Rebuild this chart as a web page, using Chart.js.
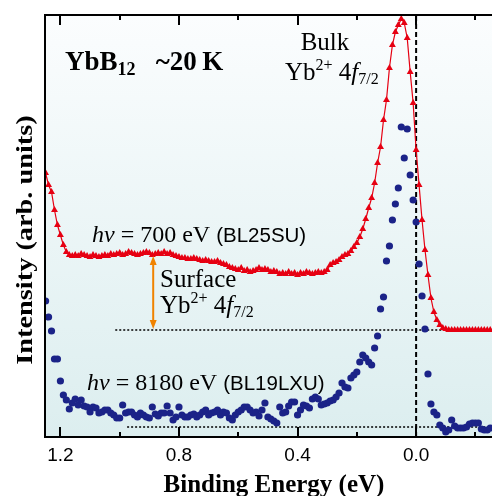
<!DOCTYPE html>
<html>
<head>
<meta charset="utf-8">
<script src="https://cdn.jsdelivr.net/npm/chart.js@4.4.0/dist/chart.umd.min.js"></script>
<style>
html, body { margin: 0; padding: 0; background: #fff; }
</style>
</head>
<body>
<canvas id="spectra" width="492" height="496"></canvas>
<script>
// binding energy grid (eV)
const energy = [1.25, 1.24, 1.23, 1.22, 1.21, 1.20, 1.19, 1.18, 1.17, 1.16, 1.15, 1.14, 1.13, 1.12, 1.11, 1.10,
    1.09, 1.08, 1.07, 1.06, 1.05, 1.04, 1.03, 1.02, 1.01, 1.00, 0.99, 0.98, 0.97, 0.96, 0.95, 0.94, 0.93, 0.92,
    0.91, 0.90, 0.89, 0.88, 0.87, 0.86, 0.85, 0.84, 0.83, 0.82, 0.81, 0.80, 0.79, 0.78, 0.77, 0.76, 0.75, 0.74,
    0.73, 0.72, 0.71, 0.70, 0.69, 0.68, 0.67, 0.66, 0.65, 0.64, 0.63, 0.62, 0.61, 0.60, 0.59, 0.58, 0.57, 0.56,
    0.55, 0.54, 0.53, 0.52, 0.51, 0.50, 0.49, 0.48, 0.47, 0.46, 0.45, 0.44, 0.43, 0.42, 0.41, 0.40, 0.39, 0.38,
    0.37, 0.36, 0.35, 0.34, 0.33, 0.32, 0.31, 0.30, 0.29, 0.28, 0.27, 0.26, 0.25, 0.24, 0.23, 0.22, 0.21, 0.20,
    0.19, 0.18, 0.17, 0.16, 0.15, 0.14, 0.13, 0.12, 0.11, 0.10, 0.09, 0.08, 0.07, 0.06, 0.05, 0.04, 0.03, 0.02,
    0.01, 0.00, -0.01, -0.02, -0.03, -0.04, -0.05, -0.06, -0.07, -0.08, -0.09, -0.10, -0.11, -0.12, -0.13, -0.14,
    -0.15, -0.16, -0.17, -0.18, -0.19, -0.20, -0.21, -0.22, -0.23, -0.24, -0.25];

// hv = 700 eV (BL25SU), red triangles
const soft700 = [264, 252, 245, 227, 212, 202, 192, 185, 182, 181, 182, 181, 183, 182, 181, 180,
    182, 181, 180, 181, 182, 181, 183, 182, 183, 184, 182, 183, 185, 184, 183, 182, 183, 184,
    185, 184, 182, 183, 184, 183, 185, 183, 184, 182, 181, 180, 179, 179, 178, 178, 179, 178,
    177, 176, 177, 176, 175, 175, 176, 174, 173, 172, 170, 169, 168, 167, 169, 166, 167, 165,
    166, 167, 169, 167, 168, 167, 165, 166, 165, 163, 164, 163, 165, 163, 164, 162, 164, 163,
    165, 164, 163, 164, 165, 164, 165, 167, 172, 174, 175, 177, 180, 182, 183, 186, 190, 194,
    200, 208, 218, 229, 239, 254, 274, 290, 317, 337, 369, 392, 405, 412, 418, 414, 399, 365,
    334, 287, 252, 217, 187, 162, 139, 125, 117, 112, 109, 108, 107, 107, 107, 107, 107, 107,
    107, 107, 107, 107, 107, 107, 107, 107, 107];

// hv = 8180 eV (BL19LXU), blue dots
const hard8180 = [136, 120, 106, 78, 78, 56, 42, 37, 28, 34, 38, 32, 37, 31, 30, 25,
    30, 29, 24, 25, 27, 27, 24, 22, 19, 19, 32, 24, 25, 25, 22, 20, 24, 22,
    20, 19, 30, 23, 21, 24, 24, 31, 24, 17, 20, 30, 22, 20, 20, 22, 23, 20,
    22, 25, 27, 22, 24, 25, 27, 22, 25, 24, 19, 17, 22, 25, 27, 30, 30, 27,
    24, 25, 21, 27, 34, 20, 18, 16, 14, 30, 24, 25, 31, 35, 35, 22, 27, 32,
    31, 29, 38, 40, 38, 32, 33, 34, 36, 37, 40, 44, 54, 50, 49, 59, 62, 65,
    75, 82, 79, 75, 72, 89, 101, 128, 140, 176, 191, 217, 233, 249, 310, 279, 308, 262,
    237, 215, 173, 141, 108, 63, 33, 25, 22, 12, 9, 5, 7, 17, 11, 9, 9, 9,
    10, 13, 14, 14, 14, 8, 7, 7, 9];

// background levels and the E_F marker
const softBaseline = [{x: 1.015, y: 107}, {x: -0.26, y: 107}];
const hardBaseline = [{x: 0.975, y: 10}, {x: -0.26, y: 10}];
const fermiLine = [{x: 0, y: 0}, {x: 0, y: 422}];
const surfaceArrow = {x: 0.887, from: 181, to: 108};

const tickValues = [1.2, 1.0, 0.8, 0.6, 0.4, 0.2, 0.0, -0.2];
const majorTicks = [1.2, 0.8, 0.4, 0.0];
const tickLabels = ['1.2', '0.8', '0.4', '0.0'];

const SERIF = "'Liberation Serif', 'Times New Roman', serif";
const SANS = "'Liberation Sans', Arial, sans-serif";
const RED = '#e60012';
const BLUE = '#1b2388';

function toPoints(ys) {
    return ys.map((y, i) => ({x: energy[i], y: y}));
}

function majorIndex(v) {
    return majorTicks.findIndex(m => Math.abs(m - v) < 1e-6);
}

// draws runs of text with different fonts / baseline shifts
function rich(ctx, x, y, parts, align) {
    let w = 0;
    parts.forEach(p => { ctx.font = p.f; w += ctx.measureText(p.t).width; });
    let cx = align === 'center' ? x - w / 2 : x;
    parts.forEach(p => {
        ctx.font = p.f;
        ctx.fillText(p.t, cx, y + (p.dy || 0));
        cx += ctx.measureText(p.t).width;
    });
}

const serif = (s, style) => (style ? style + ' ' : '') + s + 'px ' + SERIF;
const sans = s => s + 'px ' + SANS;

const decorPlugin = {
    id: 'decor',
    beforeDatasetsDraw(chart) {
        const {ctx, chartArea: a} = chart;
        const g = ctx.createLinearGradient(0, a.top, 0, a.bottom);
        g.addColorStop(0, '#fbfdfe');
        g.addColorStop(1, '#dceeef');
        ctx.save();
        ctx.fillStyle = g;
        ctx.fillRect(a.left, a.top, a.right - a.left, a.bottom - a.top);
        ctx.restore();
    },
    afterDatasetsDraw(chart) {
        const {ctx, chartArea: a} = chart;
        const xs = chart.scales.x, ys = chart.scales.y;
        ctx.save();
        // frame
        ctx.strokeStyle = '#000';
        ctx.lineWidth = 2;
        ctx.beginPath();
        ctx.moveTo(a.right + 2, a.top);
        ctx.lineTo(a.left, a.top);
        ctx.lineTo(a.left, a.bottom);
        ctx.lineTo(a.right + 2, a.bottom);
        ctx.stroke();
        // inward ticks top and bottom
        tickValues.forEach(v => {
            const px = Math.round(xs.getPixelForValue(v));
            const len = majorIndex(v) >= 0 ? 10 : 5;
            ctx.beginPath();
            ctx.moveTo(px, a.bottom);
            ctx.lineTo(px, a.bottom - len);
            ctx.moveTo(px, a.top);
            ctx.lineTo(px, a.top + len);
            ctx.stroke();
        });
        // surface arrow
        const ax = xs.getPixelForValue(surfaceArrow.x);
        const y1 = ys.getPixelForValue(surfaceArrow.from);
        const y2 = ys.getPixelForValue(surfaceArrow.to);
        ctx.strokeStyle = '#f08300';
        ctx.fillStyle = '#f08300';
        ctx.lineWidth = 2;
        ctx.beginPath();
        ctx.moveTo(ax, y1 + 6);
        ctx.lineTo(ax, y2 - 6);
        ctx.stroke();
        ctx.beginPath();
        ctx.moveTo(ax, y1); ctx.lineTo(ax - 3.5, y1 + 9); ctx.lineTo(ax + 3.5, y1 + 9); ctx.closePath();
        ctx.moveTo(ax, y2); ctx.lineTo(ax - 3.5, y2 - 9); ctx.lineTo(ax + 3.5, y2 - 9); ctx.closePath();
        ctx.fill();

        // texts
        ctx.fillStyle = '#000';
        ctx.textBaseline = 'alphabetic';
        ctx.textAlign = 'left';
        rich(ctx, 65, 70, [
            {t: 'YbB', f: serif(27, 'bold')},
            {t: '12', f: serif(18, 'bold'), dy: 5},
            {t: '   ~20\u2009K', f: serif(27, 'bold')}
        ]);
        rich(ctx, 325, 50, [{t: 'Bulk', f: serif(25)}], 'center');
        rich(ctx, 285, 80, [
            {t: 'Yb', f: serif(25)},
            {t: '2+', f: serif(16), dy: -10},
            {t: ' 4', f: serif(25)},
            {t: 'f', f: serif(25, 'italic')},
            {t: '7/2', f: serif(16), dy: 4}
        ]);
        rich(ctx, 92, 242, [
            {t: 'h\u03bd', f: serif(24, 'italic')},
            {t: ' = 700 eV ', f: serif(24)},
            {t: '(BL25SU)', f: sans(20.5)}
        ]);
        rich(ctx, 160, 287, [{t: 'Surface', f: serif(25)}]);
        rich(ctx, 160, 313, [
            {t: 'Yb', f: serif(25)},
            {t: '2+', f: serif(16), dy: -10},
            {t: ' 4', f: serif(25)},
            {t: 'f', f: serif(25, 'italic')},
            {t: '7/2', f: serif(16), dy: 4}
        ]);
        rich(ctx, 87, 390, [
            {t: 'h\u03bd', f: serif(24, 'italic')},
            {t: ' = 8180 eV ', f: serif(24)},
            {t: '(BL19LXU)', f: sans(20.5)}
        ]);
        // axis titles
        rich(ctx, 274, 492, [{t: 'Binding Energy (eV)', f: serif(25, 'bold')}], 'center');
        ctx.translate(32, 240);
        ctx.rotate(-Math.PI / 2);
        ctx.scale(1.18, 1);
        rich(ctx, 0, 0, [{t: 'Intensity (arb. units)', f: serif(24, 'bold')}], 'center');
        ctx.restore();
    }
};

new Chart(document.getElementById('spectra'), {
    type: 'line',
    data: {
        datasets: [
            {
                label: 'hv = 700 eV',
                data: toPoints(soft700),
                borderColor: RED,
                backgroundColor: RED,
                borderWidth: 1.2,
                pointStyle: 'triangle',
                pointRadius: 4,
                pointBorderWidth: 0,
                tension: 0
            },
            {
                label: 'hv = 8180 eV',
                data: toPoints(hard8180),
                showLine: false,
                borderColor: BLUE,
                backgroundColor: BLUE,
                pointStyle: 'circle',
                pointRadius: 3.6,
                pointBorderWidth: 0
            },
            {
                label: 'E_F',
                data: fermiLine,
                borderColor: '#000',
                borderWidth: 2,
                borderDash: [5, 3],
                pointRadius: 0
            },
            {
                label: 'bg 700',
                data: softBaseline,
                borderColor: '#000',
                borderWidth: 1.5,
                borderDash: [2, 2],
                pointRadius: 0
            },
            {
                label: 'bg 8180',
                data: hardBaseline,
                borderColor: '#000',
                borderWidth: 1.5,
                borderDash: [2, 2],
                pointRadius: 0
            }
        ]
    },
    options: {
        responsive: false,
        animation: false,
        devicePixelRatio: 1,
        layout: {autoPadding: false, padding: {top: 15, left: 0, right: 0, bottom: 0}},
        plugins: {
            legend: {display: false},
            tooltip: {enabled: false}
        },
        scales: {
            x: {
                type: 'linear',
                reverse: true,
                min: -0.256,
                max: 1.252,
                afterBuildTicks: s => { s.ticks = tickValues.map(v => ({value: v})); },
                afterFit: s => { s.height = 59; },
                grid: {display: false, drawTicks: false},
                border: {display: false},
                ticks: {
                    autoSkip: false,
                    maxRotation: 0,
                    padding: 7,
                    color: '#000',
                    font: {family: SANS, size: 19},
                    callback: v => { const i = majorIndex(v); return i >= 0 ? tickLabels[i] : ''; }
                }
            },
            y: {
                min: 0,
                max: 422,
                afterFit: s => { s.width = 45; },
                grid: {display: false, drawTicks: false},
                border: {display: false},
                ticks: {display: false}
            }
        }
    },
    plugins: [decorPlugin]
});
</script>
</body>
</html>
